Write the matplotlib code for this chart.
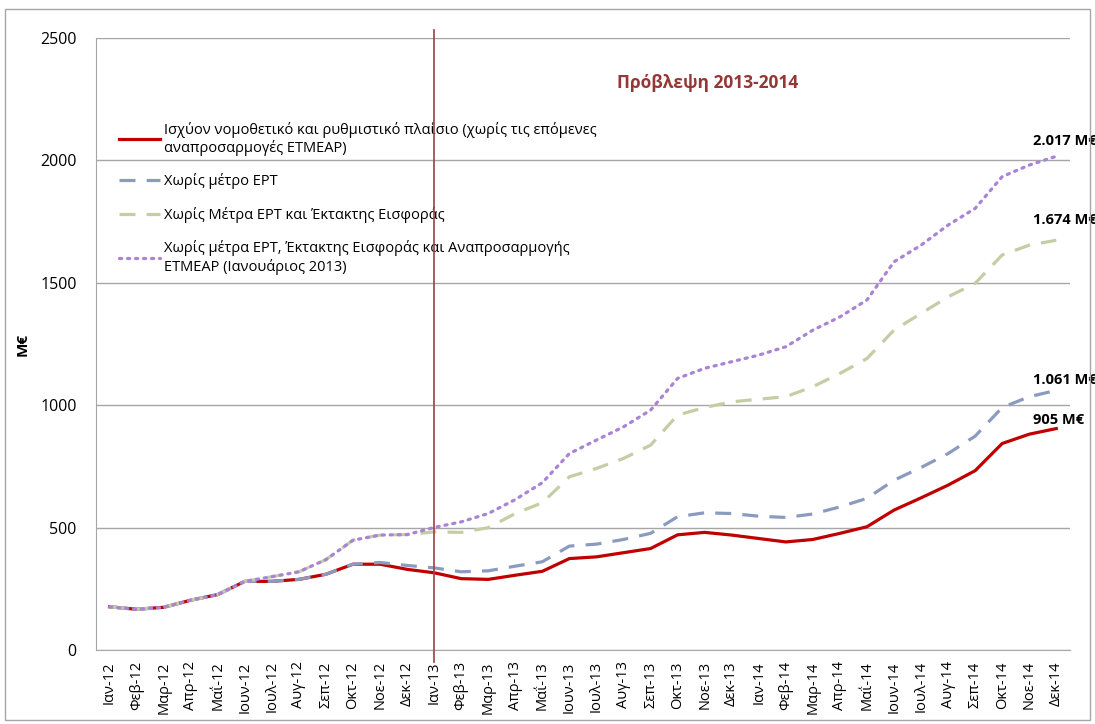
import matplotlib.pyplot as plt
from matplotlib.patches import Rectangle

plt.rcParams['font.family'] = ['Open Sans', 'DejaVu Sans']

months = ['Ιαν-12', 'Φεβ-12', 'Μαρ-12', 'Απρ-12', 'Μαΐ-12', 'Ιουν-12',
          'Ιουλ-12', 'Αυγ-12', 'Σεπ-12', 'Οκτ-12', 'Νοε-12', 'Δεκ-12',
          'Ιαν-13', 'Φεβ-13', 'Μαρ-13', 'Απρ-13', 'Μαΐ-13', 'Ιουν-13',
          'Ιουλ-13', 'Αυγ-13', 'Σεπ-13', 'Οκτ-13', 'Νοε-13', 'Δεκ-13',
          'Ιαν-14', 'Φεβ-14', 'Μαρ-14', 'Απρ-14', 'Μαΐ-14', 'Ιουν-14',
          'Ιουλ-14', 'Αυγ-14', 'Σεπ-14', 'Οκτ-14', 'Νοε-14', 'Δεκ-14']

# M€ (σωρευτικά)
base = [177, 167, 175, 204, 227, 281, 281, 289, 310, 351, 351, 330,
        316, 292, 289, 306, 322, 374, 381, 398, 415, 471, 481, 470,
        456, 442, 452, 477, 504, 572, 622, 674, 733, 844, 882, 905]
no_ert = [177, 167, 175, 204, 227, 281, 281, 289, 310, 351, 358, 346,
          336, 320, 324, 343, 361, 425, 433, 452, 477, 545, 561, 558,
          547, 542, 556, 585, 620, 694, 746, 803, 874, 991, 1035, 1061]
no_ert_eisf = [177, 167, 175, 204, 227, 281, 300, 320, 370, 449, 470, 472,
               483, 481, 500, 558, 602, 708, 742, 783, 837, 960, 991, 1014,
               1025, 1035, 1076, 1130, 1191, 1307, 1375, 1443, 1498, 1614, 1654, 1674]
no_all = [177, 167, 175, 204, 227, 281, 300, 320, 370, 449, 470, 472,
          501, 524, 558, 615, 684, 803, 858, 912, 980, 1110, 1151, 1178,
          1205, 1239, 1307, 1361, 1430, 1586, 1654, 1736, 1804, 1934, 1981, 2017]

labels = ['Ισχύον νομοθετικό και ρυθμιστικό πλαίσιο (χωρίς τις επόμενες\nαναπροσαρμογές ΕΤΜΕΑΡ)',
          'Χωρίς μέτρο ΕΡΤ',
          'Χωρίς Μέτρα ΕΡΤ και Έκτακτης Εισφοράς',
          'Χωρίς μέτρα ΕΡΤ, Έκτακτης Εισφοράς και Αναπροσαρμογής\nΕΤΜΕΑΡ (Ιανουάριος 2013)']
end_text = ['905 M€', '1.061 M€', '1.674 M€', '2.017 M€']
forecast_start = 'Ιαν-13'

x = list(range(len(months)))

fig = plt.figure(figsize=(10.95, 7.24), dpi=100)
ax = fig.add_axes([0.0877, 0.102, 0.8893, 0.8455])

l1, = ax.plot(x, base, color='#C00000', lw=2.3, label=labels[0], zorder=3)
l2, = ax.plot(x, no_ert, color='#8A9BBF', lw=2.3, ls=(0, (5, 3.5)), label=labels[1], zorder=4)
l3, = ax.plot(x, no_ert_eisf, color='#C3CEA5', lw=2.3, ls=(0, (5, 3.5)), label=labels[2], zorder=4)
l4, = ax.plot(x, no_all, color='#A983D6', lw=2.3, ls=(0, (0.7, 1.8)), label=labels[3], zorder=5,
              dash_capstyle='round')

ax.set_xlim(-0.5, len(months) - 0.5)
ax.set_ylim(0, 2500)
ax.set_yticks([0, 500, 1000, 1500, 2000, 2500])
ax.set_xticks(x)
ax.set_xticklabels(months, rotation=90, fontsize=10.5)
ax.tick_params(axis='x', length=0, pad=8)
ax.tick_params(axis='y', length=0, pad=14, labelsize=11.5)
ax.grid(axis='y', color='#A6A6A6', lw=1)
ax.set_axisbelow(True)
for s in ['top', 'right']:
    ax.spines[s].set_visible(False)
for s in ['left', 'bottom']:
    ax.spines[s].set_color('#A6A6A6')
ax.set_ylabel('M€', fontsize=11, fontweight='bold')
ax.yaxis.set_label_coords(-0.068, 0.5)

# start of forecast period
ax.axvline(months.index(forecast_start), ymin=-0.02, ymax=1.013, color='#A0403F',
           lw=1.2, clip_on=False, zorder=6)
ax.text(0.628, 0.9265, 'Πρόβλεψη 2013-2014', transform=ax.transAxes, ha='center', va='center',
        fontsize=12.5, fontweight='bold', color='#953735')

# end values
offsets = [9, 10, 20, 15]
for ser, txt, dy in zip([base, no_ert, no_ert_eisf, no_all], end_text, offsets):
    ax.annotate(txt, xy=(x[-1], ser[-1]), xytext=(-17, dy * 0.72), textcoords='offset points',
                ha='left', va='center', fontsize=10.5, fontweight='bold', annotation_clip=False)

leg = ax.legend(handles=[l1, l2, l3, l4], loc='upper left', bbox_to_anchor=(0.01, 0.885),
                frameon=False, fontsize=10.5, handlelength=2.8, handletextpad=0.3,
                labelspacing=1.2)

fig.patches.append(Rectangle((0.005, 0.005), 0.99, 0.982, transform=fig.transFigure,
                             fill=False, edgecolor='#A6A6A6', lw=1))

fig.savefig('out.png', dpi=100)
